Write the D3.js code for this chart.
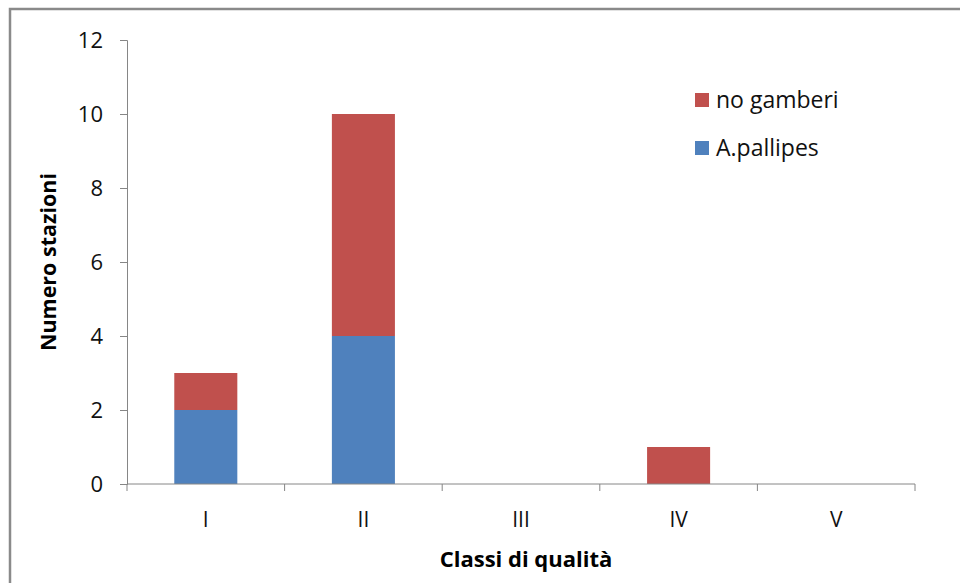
<!DOCTYPE html>
<html>
<head>
<meta charset="utf-8">
<script src="https://cdn.jsdelivr.net/npm/d3@7"></script>
<style>
  body { margin: 0; background: #fff; }
  svg { display: block; }
</style>
</head>
<body>
<div id="chart"></div>
<script>
const W = 960, H = 583;

// data
const classi = ["I", "II", "III", "IV", "V"];
const pallipes = [2, 4, 0, 0, 0];
const noGamberi = [1, 6, 0, 1, 0];
const serieNomi = ["A.pallipes", "no gamberi"];
const colori = ["#4F81BD", "#C0504D"];
const yTicks = [0, 2, 4, 6, 8, 10, 12];

const font = "'Open Sans', Lato, sans-serif";

const svg = d3.select("#chart").append("svg")
    .attr("width", W).attr("height", H);

// outer frame (only top and left visible)
svg.append("rect")
    .attr("x", 10).attr("y", 9)
    .attr("width", W + 20).attr("height", H + 20)
    .attr("fill", "#fff")
    .attr("stroke", "#8a8a8a").attr("stroke-width", 2.5);

const x = d3.scaleBand()
    .domain(classi)
    .range([127, 915])
    .paddingInner(0.6).paddingOuter(0.3);

const y = d3.scaleLinear()
    .domain([0, 12])
    .range([484, 40]);

// stacked data
const rows = classi.map((c, i) => ({ classe: c, "A.pallipes": pallipes[i], "no gamberi": noGamberi[i] }));
const stack = d3.stack().keys(serieNomi)(rows);

svg.append("g").selectAll("g")
    .data(stack)
    .enter().append("g")
    .attr("fill", (d, i) => colori[i])
    .selectAll("rect")
    .data(d => d)
    .enter().append("rect")
    .attr("x", d => x(d.data.classe))
    .attr("width", x.bandwidth())
    .attr("y", d => y(d[1]))
    .attr("height", d => y(d[0]) - y(d[1]));

// y axis
const yAxis = svg.append("g")
    .attr("transform", "translate(127,0)")
    .call(d3.axisLeft(y).tickValues(yTicks).tickSize(7).tickPadding(17));
yAxis.select(".domain").attr("stroke", "#868686");
yAxis.selectAll(".tick line").attr("stroke", "#868686");
yAxis.selectAll("text")
    .style("font-family", font).style("font-size", "22px").attr("fill", "#111");

// x axis: ticks at category boundaries
const bordi = d3.range(classi.length + 1).map(i => 127 + i * ((915 - 127) / classi.length));
const xAxisG = svg.append("g");
xAxisG.append("line")
    .attr("x1", 127).attr("x2", 915)
    .attr("y1", y(0)).attr("y2", y(0))
    .attr("stroke", "#868686");
xAxisG.selectAll(".tk").data(bordi).enter().append("line")
    .attr("x1", d => d).attr("x2", d => d)
    .attr("y1", y(0)).attr("y2", y(0) + 7)
    .attr("stroke", "#868686");
xAxisG.selectAll(".lbl").data(classi).enter().append("text")
    .attr("x", d => x(d) + x.bandwidth() / 2)
    .attr("y", 527)
    .attr("text-anchor", "middle")
    .style("font-family", font).style("font-size", "21px").attr("fill", "#111")
    .text(d => d);

// axis titles
svg.append("text")
    .attr("x", 526).attr("y", 567)
    .attr("text-anchor", "middle")
    .style("font-family", font).style("font-size", "22px").style("font-weight", "bold")
    .text("Classi di qualità");

svg.append("text")
    .attr("transform", "translate(56,262) rotate(-90)")
    .attr("text-anchor", "middle")
    .style("font-family", font).style("font-size", "21.5px").style("font-weight", "bold")
    .text("Numero stazioni");

// legend (reversed order: no gamberi on top)
const legend = svg.append("g").selectAll("g")
    .data(serieNomi.slice().reverse())
    .enter().append("g")
    .attr("transform", (d, i) => "translate(695," + (93 + i * 48) + ")");
legend.append("rect")
    .attr("width", 14).attr("height", 14)
    .attr("fill", d => colori[serieNomi.indexOf(d)]);
legend.append("text")
    .attr("x", 21).attr("y", 14.5)
    .style("font-family", font).style("font-size", "23px").attr("fill", "#111")
    .text(d => d);
</script>
</body>
</html>
